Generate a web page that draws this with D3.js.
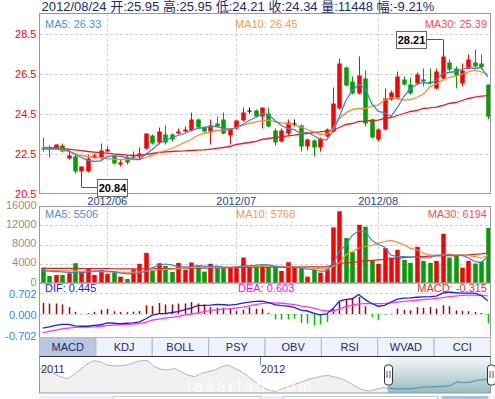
<!DOCTYPE html>
<html>
<head>
<meta charset="utf-8">
<title>K线图</title>
<script src="https://cdnjs.cloudflare.com/ajax/libs/d3/7.8.5/d3.min.js"></script>
<style>
    body { margin: 0; background: #fff; }
    svg { display: block; font-family: "Liberation Sans", Arial, "Noto Sans CJK SC", sans-serif; }
</style>
</head>
<body>
<div id="chart"></div>
<script>
    // trading days shown in the main window
    var dates = [
        "2012/05/18", "2012/05/21", "2012/05/22", "2012/05/23", "2012/05/24", "2012/05/25", "2012/05/28", "2012/05/29", "2012/05/30", "2012/05/31",
        "2012/06/01", "2012/06/04", "2012/06/05", "2012/06/06", "2012/06/07", "2012/06/08", "2012/06/11", "2012/06/12", "2012/06/13", "2012/06/14",
        "2012/06/15", "2012/06/18", "2012/06/19", "2012/06/20", "2012/06/21", "2012/06/25", "2012/06/26", "2012/06/27", "2012/06/28", "2012/06/29",
        "2012/07/02", "2012/07/03", "2012/07/04", "2012/07/05", "2012/07/06", "2012/07/09", "2012/07/10", "2012/07/11", "2012/07/12", "2012/07/13",
        "2012/07/16", "2012/07/17", "2012/07/18", "2012/07/19", "2012/07/20", "2012/07/23", "2012/07/24", "2012/07/25", "2012/07/26", "2012/07/27",
        "2012/07/30", "2012/07/31", "2012/08/01", "2012/08/02", "2012/08/03", "2012/08/06", "2012/08/07", "2012/08/08", "2012/08/09", "2012/08/10",
        "2012/08/13", "2012/08/14", "2012/08/15", "2012/08/16", "2012/08/17", "2012/08/20", "2012/08/21", "2012/08/22", "2012/08/23", "2012/08/24"
    ];
    var opens = [22.75, 22.8, 22.75, 22.9, 22.25, 22.35, 21.6, 21.6, 22.3, 22.3,
        22.6, 22.4, 21.95, 22.3, 22.3, 22.35, 22.75, 23.4, 23.05, 23.45,
        23.45, 23.5, 23.6, 23.65, 24.2, 23.8, 23.6, 24.0, 24.2, 23.4,
        23.75, 24.15, 24.65, 24.65, 24.35, 24.5, 23.65, 23.1, 23.5, 24.0,
        23.9, 22.85, 23.15, 22.8, 23.35, 23.6, 24.75, 26.8, 26.1, 25.5,
        26.25, 24.2, 23.2, 23.7, 25.2, 25.3, 26.2, 25.95, 26.0, 26.2,
        26.1, 25.75, 26.25, 27.05, 26.75, 26.0, 26.75, 27.05, 27.0, 25.95];
    var highs = [23.3, 22.9, 22.95, 23.0, 22.7, 22.45, 21.85, 22.45, 22.5, 23.0,
        22.85, 22.45, 22.2, 22.4, 22.6, 22.8, 23.5, 23.45, 23.8, 23.9,
        23.5, 23.75, 23.85, 24.55, 24.25, 23.85, 24.2, 24.35, 24.55, 23.75,
        24.2, 24.8, 24.8, 24.7, 24.8, 24.8, 23.75, 23.75, 24.2, 24.2,
        23.95, 23.25, 23.2, 23.3, 23.75, 25.8, 27.25, 26.85, 26.35, 27.35,
        26.65, 24.25, 23.75, 25.75, 25.65, 26.6, 26.35, 26.3, 26.55, 26.75,
        26.75, 26.75, 28.21, 27.2, 26.85, 27.0, 27.45, 27.7, 27.45, 25.95];
    var lows = [22.6, 22.3, 22.7, 22.55, 22.2, 21.5, 20.84, 21.55, 22.25, 22.2,
        22.55, 21.95, 21.85, 21.95, 22.2, 22.2, 22.7, 22.95, 22.95, 22.95,
        23.1, 23.45, 23.55, 23.6, 23.75, 23.55, 22.95, 23.8, 23.45, 22.95,
        23.7, 24.1, 24.5, 24.3, 23.75, 23.8, 22.9, 23.05, 23.4, 23.85,
        22.6, 22.65, 22.35, 22.6, 23.3, 23.55, 24.7, 25.85, 25.45, 25.45,
        23.85, 23.25, 23.1, 23.65, 25.15, 25.25, 25.9, 25.45, 25.95, 25.85,
        25.95, 25.7, 26.2, 26.6, 25.75, 25.85, 26.7, 26.8, 26.7, 24.21];
    var closes = [22.7, 22.7, 22.95, 22.6, 22.4, 21.6, 21.85, 22.25, 22.4, 22.65,
        22.7, 22.0, 22.05, 22.05, 22.35, 22.5, 23.5, 23.0, 23.6, 23.05,
        23.2, 23.6, 23.7, 24.2, 23.8, 23.6, 23.9, 23.85, 23.5, 23.75,
        24.15, 24.55, 24.65, 24.35, 24.8, 23.85, 23.05, 23.65, 24.05, 24.0,
        22.85, 23.2, 22.8, 23.25, 23.7, 25.0, 27.0, 25.9, 25.5, 26.4,
        24.0, 23.3, 23.7, 25.25, 25.55, 26.35, 25.95, 25.5, 26.45, 26.1,
        26.0, 26.6, 27.35, 26.7, 26.4, 26.65, 27.2, 26.85, 26.81, 24.34];
    var ma5 = [22.75, 22.72, 22.75, 22.72, 22.65, 22.45, 22.3, 22.15, 22.1, 22.13,
        22.35, 22.38, 22.36, 22.3, 22.23, 22.2, 22.48, 22.7, 23.0, 23.15,
        23.3, 23.4, 23.5, 23.65, 23.75, 23.8, 23.85, 23.85, 23.75, 23.7,
        23.8, 23.95, 24.15, 24.3, 24.5, 24.45, 24.15, 23.9, 23.75, 23.7,
        23.5, 23.55, 23.4, 23.22, 23.17, 23.6, 24.35, 25.15, 25.65, 25.95,
        25.75, 25.0, 24.6, 24.55, 24.35, 24.8, 25.35, 25.75, 25.95, 26.05,
        26.0, 26.15, 26.5, 26.55, 26.6, 26.7, 26.8, 26.75, 26.8, 26.33];
    var ma10 = [22.78, 22.75, 22.72, 22.68, 22.6, 22.5, 22.4, 22.35, 22.3, 22.28,
        22.25, 22.22, 22.2, 22.2, 22.2, 22.2, 22.3, 22.4, 22.55, 22.65,
        22.75, 22.9, 23.05, 23.2, 23.4, 23.5, 23.58, 23.65, 23.67, 23.7,
        23.8, 23.9, 24.0, 24.08, 24.13, 24.17, 24.08, 24.03, 24.0, 23.92,
        23.83, 23.7, 23.58, 23.45, 23.45, 23.75, 24.25, 24.53, 24.7, 24.75,
        24.75, 24.87, 24.92, 25.17, 25.3, 25.25, 25.17, 25.2, 25.3, 25.47,
        25.83, 25.97, 26.17, 26.3, 26.37, 26.47, 26.58, 26.67, 26.58, 26.45];
    var ma30 = [22.8, 22.79, 22.78, 22.76, 22.72, 22.68, 22.64, 22.6, 22.57, 22.54,
        22.52, 22.48, 22.45, 22.42, 22.4, 22.4, 22.45, 22.5, 22.55, 22.58,
        22.6, 22.62, 22.63, 22.65, 22.67, 22.68, 22.72, 22.76, 22.8, 22.85,
        22.95, 23.0, 23.05, 23.1, 23.2, 23.25, 23.3, 23.33, 23.38, 23.42,
        23.47, 23.5, 23.55, 23.58, 23.62, 23.67, 23.8, 23.95, 24.0, 24.1,
        24.12, 24.15, 24.17, 24.25, 24.3, 24.4, 24.5, 24.6, 24.65, 24.75,
        24.78, 24.82, 24.9, 25.0, 25.05, 25.15, 25.25, 25.32, 25.37, 25.39];

    var volumes = [3200, 1460, 1670, 1670, 2020, 4110, 2370, 3060, 1670, 2710,
        1880, 2500, 1320, 840, 2850, 3970, 6260, 2710, 4110, 3550,
        2300, 4180, 2710, 4250, 3550, 2370, 3970, 3410, 3060, 3200,
        3480, 5290, 3550, 3270, 3550, 3410, 3410, 2500, 4320, 3270,
        3200, 1320, 2710, 2160, 2850, 11550, 14900, 9330, 6400, 12100,
        11700, 4600, 3970, 7240, 5290, 6890, 4800, 4180, 7520, 4600,
        4180, 4600, 10230, 5290, 5850, 3200, 4600, 4040, 4450, 11448];
    var volMa5 = [2500, 2450, 2370, 2300, 2200, 2100, 2050, 2300, 2500, 2550,
        2450, 2350, 2050, 1900, 1880, 2000, 2500, 3200, 3600, 3950,
        3750, 3350, 3350, 3400, 3600, 3500, 3400, 3500, 3300, 3200,
        3300, 3500, 3600, 3650, 3800, 3750, 3450, 3250, 3300, 3300,
        3100, 2900, 2800, 2450, 2450, 4000, 6600, 7900, 9900, 10800,
        10700, 8900, 8000, 7500, 5800, 5500, 5500, 5400, 5400, 5200,
        5200, 5800, 5800, 5800, 5700, 5800, 5200, 4450, 4300, 5506];
    var volMa10 = [2700, 2650, 2600, 2550, 2500, 2450, 2420, 2400, 2380, 2350,
        2300, 2300, 2250, 2200, 2250, 2300, 2450, 2550, 2750, 2850,
        2900, 3000, 3100, 3200, 3250, 3300, 3250, 3200, 3250, 3300,
        3350, 3400, 3450, 3450, 3500, 3500, 3500, 3450, 3400, 3350,
        3300, 3200, 3100, 3000, 2950, 3400, 4200, 5850, 6540, 7240,
        7590, 7800, 8280, 8630, 8840, 8500, 7930, 7200, 6890, 6190,
        5850, 5700, 5850, 6000, 5850, 5700, 5700, 5500, 5150, 5768];
    var volMa30 = [3050, 3050, 3050, 3040, 3030, 3020, 3010, 3000, 2990, 2980,
        2970, 2960, 2950, 2940, 2930, 2930, 2950, 2960, 2980, 3000,
        3000, 3020, 3040, 3060, 3080, 3100, 3120, 3140, 3160, 3180,
        3200, 3230, 3250, 3270, 3290, 3300, 3310, 3310, 3320, 3320,
        3330, 3330, 3340, 3340, 3350, 3700, 4100, 4200, 4300, 4450,
        4600, 4700, 4800, 4900, 5000, 5150, 5290, 5360, 5430, 5500,
        5570, 5640, 5700, 5700, 5700, 5780, 5850, 5950, 6050, 6194];

    var macdHist = [0.37, 0.35, 0.35, 0.32, 0.23, 0.07, 0.01, 0.03, 0.07, 0.14,
        0.17, 0.09, 0.07, 0.06, 0.08, 0.10, 0.29, 0.27, 0.37, 0.32,
        0.32, 0.35, 0.35, 0.40, 0.35, 0.32, 0.23, 0.21, 0.21, 0.20,
        0.10, 0.14, 0.23, 0.18, 0.18, 0.04, -0.18, -0.19, -0.18, -0.16,
        -0.30, -0.32, -0.38, -0.35, -0.27, 0.18, 0.40, 0.49, 0.51, 0.57,
        0.26, -0.10, -0.21, -0.03, 0.01, 0.18, 0.14, 0.12, 0.23, 0.21,
        0.23, 0.18, 0.29, 0.26, 0.12, 0.10, 0.09, 0.07, 0.03, -0.315];
    var dif = [-0.47, -0.43, -0.38, -0.35, -0.35, -0.40, -0.41, -0.41, -0.38, -0.36,
        -0.30, -0.31, -0.32, -0.31, -0.30, -0.26, -0.16, -0.04, 0.01, 0.01,
        0.05, 0.08, 0.15, 0.20, 0.28, 0.29, 0.30, 0.32, 0.31, 0.30,
        0.32, 0.36, 0.40, 0.42, 0.43, 0.38, 0.31, 0.28, 0.26, 0.22,
        0.13, 0.10, 0.03, -0.03, 0.00, 0.18, 0.43, 0.49, 0.51, 0.65,
        0.48, 0.35, 0.26, 0.29, 0.40, 0.50, 0.53, 0.54, 0.56, 0.57,
        0.58, 0.60, 0.70, 0.73, 0.71, 0.70, 0.70, 0.70, 0.62, 0.445];
    var dea = [-0.62, -0.58, -0.54, -0.50, -0.47, -0.45, -0.44, -0.44, -0.43, -0.41,
        -0.39, -0.37, -0.36, -0.35, -0.34, -0.32, -0.28, -0.20, -0.17, -0.14,
        -0.11, -0.08, -0.04, 0.00, 0.04, 0.08, 0.12, 0.14, 0.16, 0.18,
        0.20, 0.23, 0.27, 0.31, 0.35, 0.37, 0.37, 0.36, 0.34, 0.31,
        0.27, 0.24, 0.20, 0.14, 0.10, 0.10, 0.17, 0.25, 0.30, 0.34,
        0.35, 0.35, 0.35, 0.35, 0.37, 0.40, 0.42, 0.44, 0.46, 0.48,
        0.50, 0.52, 0.55, 0.58, 0.60, 0.62, 0.63, 0.63, 0.62, 0.603];

    // long range navigator (closing price, sampled)
    var navValues = [34.2, 32.9, 31.4, 29.5, 28.3, 30.4, 33.7, 36.7, 38.6, 38.0,
        36.1, 35.6, 35.8, 36.1, 37.5, 38.6, 38.6, 35.2, 33.7, 33.3,
        34.2, 32.3, 30.4, 29.5, 31.4, 32.3, 33.3, 35.2, 36.1, 34.2,
        32.3, 29.5, 26.6, 23.8, 21.9, 21.1, 22.5, 23.8, 25.3, 26.6,
        28.0, 28.9, 29.9, 30.1, 29.1, 28.0, 26.1, 23.8, 21.9, 21.3,
        22.3, 23.2, 23.0, 22.5, 22.6, 22.5, 23.0, 23.6, 23.6, 23.8,
        24.0, 24.4, 26.6, 26.1, 26.4, 27.4, 27.8, 28.3];
    var navYearLabels = ["2011", "2012"];
    var navYearPos = [0, 32.7];
    var navWindow = [51.7, 67];

    var priceTicks = [20.5, 22.5, 24.5, 26.5, 28.5];
    var volTicks = [0, 4000, 8000, 12000, 16000];
    var macdTicks = [-0.702, 0, 0.702];
    var tabs = ["MACD", "KDJ", "BOLL", "PSY", "OBV", "RSI", "WVAD", "CCI"];

    var red = "#ff0000", green = "#00a000";
    var left = 39.5, right = 490.5;

    var svg = d3.select("#chart").append("svg")
        .attr("width", 495)
        .attr("height", 399);

    var n = dates.length;
    var x = d3.scaleBand().domain(d3.range(n)).range([39.5, 491]).paddingInner(0.33).paddingOuter(0.165);
    var bw = x.bandwidth();
    function cx(i) { return x(i) + bw / 2; }

    var yP = d3.scaleLinear().domain([20.5, 29.5]).range([193.5, 13.5]);
    var yV = d3.scaleLinear().domain([0, 16000]).range([283, 206]);
    var yM = d3.scaleLinear().domain([-0.702, 0.702]).range([335, 293]);

    function colorOf(i) {
        if (closes[i] > opens[i]) return red;
        if (closes[i] < opens[i]) return green;
        return "#000";
    }

    // header line
    var last = n - 1;
    var chg = (closes[last] / closes[last - 1] - 1) * 100;
    svg.append("text")
        .attr("x", 41.5).attr("y", 11)
        .attr("fill", "#1b2a6b")
        .style("font-size", "13px")
        .text(dates[last] + " 开:" + opens[last].toFixed(2) + " 高:" + highs[last].toFixed(2) +
            " 低:" + lows[last].toFixed(2) + " 收:" + closes[last].toFixed(2) +
            " 量:" + volumes[last] + " 幅:" + chg.toFixed(2) + "%");

    // month starts
    var monthStarts = [];
    for (var i = 1; i < n; i++) {
        if (dates[i].slice(5, 7) !== dates[i - 1].slice(5, 7)) monthStarts.push(i);
    }

    function hGrid(scale, ticks) {
        svg.append("g")
            .attr("transform", "translate(" + left + ",0)")
            .call(d3.axisRight(scale).tickValues(ticks).tickSize(right - left).tickFormat(""))
            .call(function (g) { g.select(".domain").remove(); })
            .selectAll("line")
            .attr("stroke", "#cfcfcf")
            .attr("stroke-dasharray", "3,2")
            .attr("shape-rendering", "crispEdges");
    }

    function vGrid(y0, y1) {
        svg.append("g").selectAll("line")
            .data(monthStarts).enter().append("line")
            .attr("x1", function (d) { return Math.round(cx(d)) + 0.5; })
            .attr("x2", function (d) { return Math.round(cx(d)) + 0.5; })
            .attr("y1", y0).attr("y2", y1)
            .attr("stroke", "#cfcfcf")
            .attr("stroke-dasharray", "3,2");
    }

    function leftLabels(scale, ticks, color, fmt, shift) {
        var g = svg.append("g")
            .attr("transform", "translate(" + left + "," + (shift || 0) + ")")
            .call(d3.axisLeft(scale).tickValues(ticks).tickSize(0).tickPadding(3).tickFormat(fmt));
        g.select(".domain").remove();
        g.attr("font-family", null).attr("font-size", null);
        g.selectAll("text").attr("fill", color).style("font-size", "11px");
    }

    // ---------- price panel ----------
    hGrid(yP, priceTicks.slice(1));
    vGrid(13.5, 193.5);
    leftLabels(yP, priceTicks, "#ff0000", function (d) { return d.toFixed(1); });

    var candles = svg.append("g");
    for (var i = 0; i < n; i++) {
        var col = colorOf(i);
        var wx = Math.round(cx(i)) + 0.5;
        candles.append("line")
            .attr("x1", wx).attr("x2", wx)
            .attr("y1", yP(highs[i])).attr("y2", yP(lows[i]))
            .attr("stroke", col);
        var bodyTop = yP(Math.max(opens[i], closes[i]));
        var bodyH = Math.max(1, Math.abs(yP(opens[i]) - yP(closes[i])));
        candles.append("rect")
            .attr("x", wx - 2.25).attr("y", bodyTop)
            .attr("width", 4.5).attr("height", bodyH)
            .attr("fill", col);
    }

    function drawLine(data, scale, color, w) {
        svg.append("path")
            .datum(data)
            .attr("fill", "none")
            .attr("stroke", color)
            .attr("stroke-width", w)
            .attr("d", d3.line().x(function (d, i) { return cx(i); }).y(function (d) { return scale(d); }));
    }
    drawLine(ma30, yP, "#f01c1c", 1.3);
    drawLine(ma10, yP, "#ff8a2a", 1.3);
    drawLine(ma5, yP, "#3a86d8", 1.3);

    // max / min markers
    var iMax = d3.maxIndex(highs), iMin = d3.minIndex(lows);
    function marker(i, v, side) {
        var yy = Math.round(yP(v)) + 0.5;
        var bx = side < 0 ? cx(i) - 17 - 30 : cx(i) + 15.5;
        var edge = side < 0 ? bx + 30 : bx;
        svg.append("line")
            .attr("x1", edge).attr("x2", cx(i))
            .attr("y1", yy).attr("y2", yy)
            .attr("stroke", "#555");
        svg.append("rect")
            .attr("x", Math.round(bx) + 0.5).attr("y", yy - 8)
            .attr("width", 30).attr("height", 17)
            .attr("fill", "#fff").attr("stroke", "#666");
        svg.append("text")
            .attr("x", Math.round(bx) + 15.5).attr("y", yy + 4.5)
            .attr("text-anchor", "middle")
            .style("font-size", "11px").style("font-weight", "bold")
            .attr("fill", "#000")
            .text(v.toFixed(2));
    }

    svg.append("rect")
        .attr("x", left).attr("y", 13.5).attr("width", right - left).attr("height", 180)
        .attr("fill", "none").attr("stroke", "#999");

    marker(iMax, highs[iMax], -1);
    marker(iMin, lows[iMin], 1);

    // legends
    function legend(y, items) {
        items.forEach(function (it) {
            svg.append("text")
                .attr("x", it[0]).attr("y", y)
                .attr("text-anchor", it[3] || "start")
                .attr("fill", it[1])
                .style("font-size", "11px")
                .text(it[2]);
        });
    }
    legend(28, [
        [45, "#4a8fd8", "MA5: " + ma5[last].toFixed(2)],
        [235, "#f59a4a", "MA10: " + ma10[last].toFixed(2)],
        [487, "#ff4d4d", "MA30: " + ma30[last].toFixed(2), "end"]
    ]);

    // date axis
    var dAxis = svg.append("g")
        .attr("transform", "translate(0,193.5)")
        .call(d3.axisBottom(x).tickValues(monthStarts).tickSize(0).tickPadding(4)
            .tickFormat(function (i) { return dates[i].slice(0, 7); }));
    dAxis.select(".domain").remove();
    dAxis.attr("font-family", null).attr("font-size", null);
    dAxis.selectAll("text").attr("fill", "#1f3f96").style("font-size", "11px");

    // ---------- volume panel ----------
    hGrid(yV, volTicks.slice(1, 4));
    vGrid(206.5, 283);
    leftLabels(yV, volTicks, "#9a8c7c", function (d) { return d; }, -1.5);

    svg.append("g").selectAll("rect")
        .data(volumes).enter().append("rect")
        .attr("x", function (d, i) { return Math.round(cx(i)) + 0.5 - 2.25; })
        .attr("y", function (d) { return yV(d); })
        .attr("width", 4.5)
        .attr("height", function (d) { return yV(0) - yV(d); })
        .attr("fill", function (d, i) { return colorOf(i) === "#000" ? red : colorOf(i); });

    drawLine(volMa30, yV, "#f01c1c", 1.2);
    drawLine(volMa10, yV, "#ff8a2a", 1.2);
    drawLine(volMa5, yV, "#3a86d8", 1.2);

    svg.append("rect")
        .attr("x", left).attr("y", 206.5).attr("width", right - left).attr("height", 76.5)
        .attr("fill", "none").attr("stroke", "#999");

    legend(218, [
        [45, "#4a8fd8", "MA5: " + volMa5[last]],
        [236, "#f59a4a", "MA10: " + volMa10[last]],
        [487, "#ff4d4d", "MA30: " + volMa30[last], "end"]
    ]);

    // ---------- MACD panel ----------
    hGrid(yM, [0.702, 0]);
    leftLabels(yM, macdTicks, "#2a8ae0", function (d) { return d.toFixed(3); }, 1);

    svg.append("g").selectAll("rect")
        .data(macdHist).enter().append("rect")
        .attr("x", function (d, i) { return Math.round(cx(i)) + 0.5 - 0.75; })
        .attr("y", function (d) { return Math.min(yM(d), yM(0)); })
        .attr("width", 1.5)
        .attr("height", function (d) { return Math.abs(yM(d) - yM(0)); })
        .attr("fill", function (d) { return d >= 0 ? "#b00000" : "#00c000"; });

    drawLine(dea, yM, "#ff33ff", 1.3);
    drawLine(dif, yM, "#1a1aff", 1.3);

    svg.append("rect")
        .attr("x", left).attr("y", 283).attr("width", right - left).attr("height", 54.5)
        .attr("fill", "none").attr("stroke", "#999");

    legend(291.5, [
        [45, "#2020d0", "DIF: " + dif[last].toFixed(3)],
        [238, "#ff00ff", "DEA: " + dea[last].toFixed(3)],
        [487, "#e03030", "MACD: " + macdHist[last].toFixed(3), "end"]
    ]);

    // ---------- tabs ----------
    var tx = d3.scaleBand().domain(tabs).range([left, right]);
    var tabG = svg.append("g");
    tabG.selectAll("rect")
        .data(tabs).enter().append("rect")
        .attr("x", function (d) { return tx(d); })
        .attr("y", 337.5)
        .attr("width", tx.bandwidth())
        .attr("height", 19)
        .attr("fill", function (d, i) { return i === 0 ? "#b9c8e2" : "#eef2fa"; })
        .attr("stroke", "#a9b8d6");
    tabG.selectAll("text")
        .data(tabs).enter().append("text")
        .attr("x", function (d) { return tx(d) + tx.bandwidth() / 2; })
        .attr("y", 351)
        .attr("text-anchor", "middle")
        .attr("fill", "#1b2a6b")
        .style("font-size", "11px")
        .text(function (d) { return d; });

    // ---------- navigator ----------
    var navX = d3.scaleLinear().domain([0, navValues.length - 1]).range([40, 490.5]);
    var navY = d3.scaleLinear().domain([21.5, 39.4]).range([390.7, 359.3]);

    var defs = svg.append("defs");
    var grad = defs.append("linearGradient").attr("id", "selGrad")
        .attr("x1", 0).attr("y1", 0).attr("x2", 0).attr("y2", 1);
    grad.append("stop").attr("offset", "0%").attr("stop-color", "#f6f8f8");
    grad.append("stop").attr("offset", "100%").attr("stop-color", "#98bcbc");
    defs.append("clipPath").attr("id", "selClip")
        .append("rect")
        .attr("x", navX(navWindow[0])).attr("y", 356)
        .attr("width", navX(navWindow[1]) - navX(navWindow[0])).attr("height", 37);

    svg.append("rect")
        .attr("x", left).attr("y", 356.5).attr("width", right - left).attr("height", 36.5)
        .attr("fill", "#fff");

    var navArea = d3.area()
        .x(function (d, i) { return navX(i); })
        .y0(393).y1(function (d) { return navY(d); });
    var navLine = d3.line()
        .x(function (d, i) { return navX(i); })
        .y(function (d) { return navY(d); });

    svg.append("path").datum(navValues).attr("d", navArea).attr("fill", "#f1f1f1");
    svg.append("path").datum(navValues).attr("d", navLine)
        .attr("fill", "none").attr("stroke", "#b4b4b4").attr("stroke-width", 1);

    svg.append("rect")
        .attr("x", navX(navWindow[0])).attr("y", 357)
        .attr("width", navX(navWindow[1]) - navX(navWindow[0])).attr("height", 36)
        .attr("fill", "url(#selGrad)");
    svg.append("path").datum(navValues).attr("d", navLine)
        .attr("clip-path", "url(#selClip)")
        .attr("fill", "none").attr("stroke", "#3a90c0").attr("stroke-width", 1);

    // watermark
    svg.append("text")
        .attr("x", 187).attr("y", 392)
        .attr("fill", "#ffffff").attr("opacity", 0.85)
        .style("font-size", "16px").style("letter-spacing", "3px")
        .text("laserfan.com");

    navYearLabels.forEach(function (lab, k) {
        var px = navX(navYearPos[k]);
        if (k > 0) {
            svg.append("line")
                .attr("x1", Math.round(px) + 0.5).attr("x2", Math.round(px) + 0.5)
                .attr("y1", 357).attr("y2", 365)
                .attr("stroke", "#888");
        }
        svg.append("text")
            .attr("x", px + 1).attr("y", 372.5)
            .attr("fill", "#2a2a8a")
            .style("font-size", "11px")
            .text(lab);
    });

    svg.append("rect")
        .attr("x", left).attr("y", 356.5).attr("width", right - left).attr("height", 36.5)
        .attr("fill", "none").attr("stroke", "#999");
    svg.append("line").attr("x1", left).attr("x2", right).attr("y1", 356.5).attr("y2", 356.5).attr("stroke", "#333");

    // handles
    navWindow.forEach(function (w) {
        var hx = Math.round(navX(w)) + 0.5;
        svg.append("rect")
            .attr("x", hx - 4).attr("y", 365)
            .attr("width", 8).attr("height", 20).attr("rx", 3)
            .attr("fill", "#fff").attr("stroke", "#333");
        [-1.5, 1.5].forEach(function (o) {
            svg.append("line")
                .attr("x1", hx + o).attr("x2", hx + o)
                .attr("y1", 371).attr("y2", 378)
                .attr("stroke", "#555");
        });
    });

    // scrollbar strip
    svg.append("rect").attr("x", left).attr("y", 396).attr("width", right - left).attr("height", 4).attr("fill", "#e7eef8");
    svg.append("rect").attr("x", 113.5).attr("y", 396.5).attr("width", 147).attr("height", 4).attr("fill", "#fff").attr("stroke", "#b8c8e0");
    svg.append("rect").attr("x", 283.5).attr("y", 396.5).attr("width", 154).attr("height", 4).attr("fill", "#fff").attr("stroke", "#b8c8e0");
    svg.append("rect").attr("x", 442).attr("y", 396).attr("width", 46).attr("height", 4).attr("fill", "#a9bfdf");
</script>
</body>
</html>
